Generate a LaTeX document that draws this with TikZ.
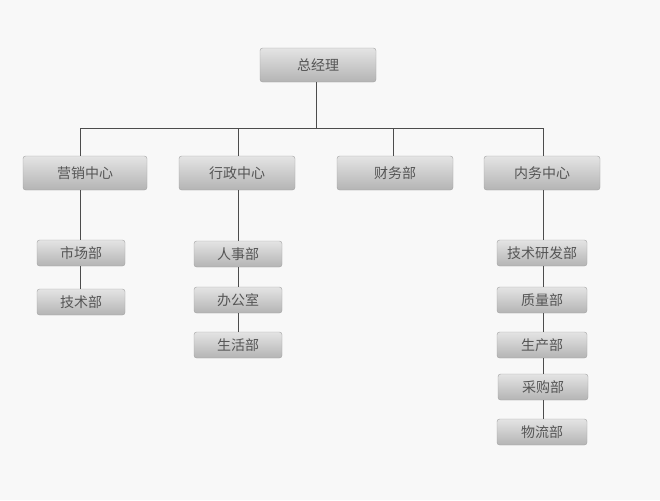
\documentclass[tikz,border=0pt]{standalone}
\usepackage{fontspec}
\setmainfont{Noto Sans CJK SC}
\definecolor{bg}{HTML}{F8F8F8}
\definecolor{boxtop}{HTML}{E4E4E4}
\definecolor{boxbot}{HTML}{B4B4B4}
\definecolor{txt}{HTML}{555555}
\tikzset{
	unit/.style={rounded corners=2pt, top color=boxtop, bottom color=boxbot, draw=boxbot!90!black, line width=0.3pt,
		text=txt, font=\fontsize{10.5}{12}\selectfont, inner sep=0pt, minimum height=25.5pt},
	bigunit/.style={unit, minimum width=87pt},
	smallunit/.style={unit, minimum width=66pt, minimum height=19.5pt},
	link/.style={draw=black!70, line width=0.6pt}
}
\begin{document}
\begin{tikzpicture}[x=0.75pt, y=-0.75pt]
		\fill[bg] (0,0) rectangle (660,500);
		\useasboundingbox (0,0) rectangle (660,500);
		\node[bigunit] (gm) at (318,65) {总经理};
		\node[bigunit, minimum width=93pt] (sales) at (85,173) {营销中心};
		\node[bigunit] (admin) at (237,173) {行政中心};
		\node[bigunit] (fin) at (395,173) {财务部};
		\node[bigunit] (inner) at (542,173) {内务中心};
		% sub units
		\node[smallunit] (market) at (81,253) {市场部};
		\node[smallunit] (tech) at (81,302) {技术部};
		\node[smallunit] (hr) at (238,254) {人事部};
		\node[smallunit] (office) at (238,300) {办公室};
		\node[smallunit] (life) at (238,345) {生活部};
		\node[smallunit, minimum width=67.5pt] (rd) at (542,253) {技术研发部};
		\node[smallunit, minimum width=67.5pt] (qa) at (542,300) {质量部};
		\node[smallunit, minimum width=67.5pt] (prod) at (542,345) {生产部};
		\node[smallunit, minimum width=67.5pt] (buy) at (543,387) {采购部};
		\node[smallunit, minimum width=67.5pt] (logi) at (542,432) {物流部};
		% connectors
		\coordinate (bus) at (316,128);
		\draw[link] (gm.south -| bus) -- (bus);
		\draw[link] (80,128) -- (543,128);
		\draw[link] (80,128) -- (80,156);
		\draw[link] (238,128) -- (238,156);
		\draw[link] (393,128) -- (393,156);
		\draw[link] (543,128) -- (543,156);
		\draw[link] (80,190) -- (market.north -| 80,0);
		\draw[link] (market.south -| 80,0) -- (tech.north -| 80,0);
		\draw[link] (admin.south -| hr) -- (hr.north);
		\draw[link] (hr) -- (office) -- (life);
		\draw[link] (inner.south -| 543,0) -- (rd.north -| 543,0);
		\foreach \a/\b in {rd/qa, qa/prod, prod/buy, buy/logi}{
			\draw[link] (\a.south -| 543,0) -- (\b.north -| 543,0);
		}
	\end{tikzpicture}
\end{document}
